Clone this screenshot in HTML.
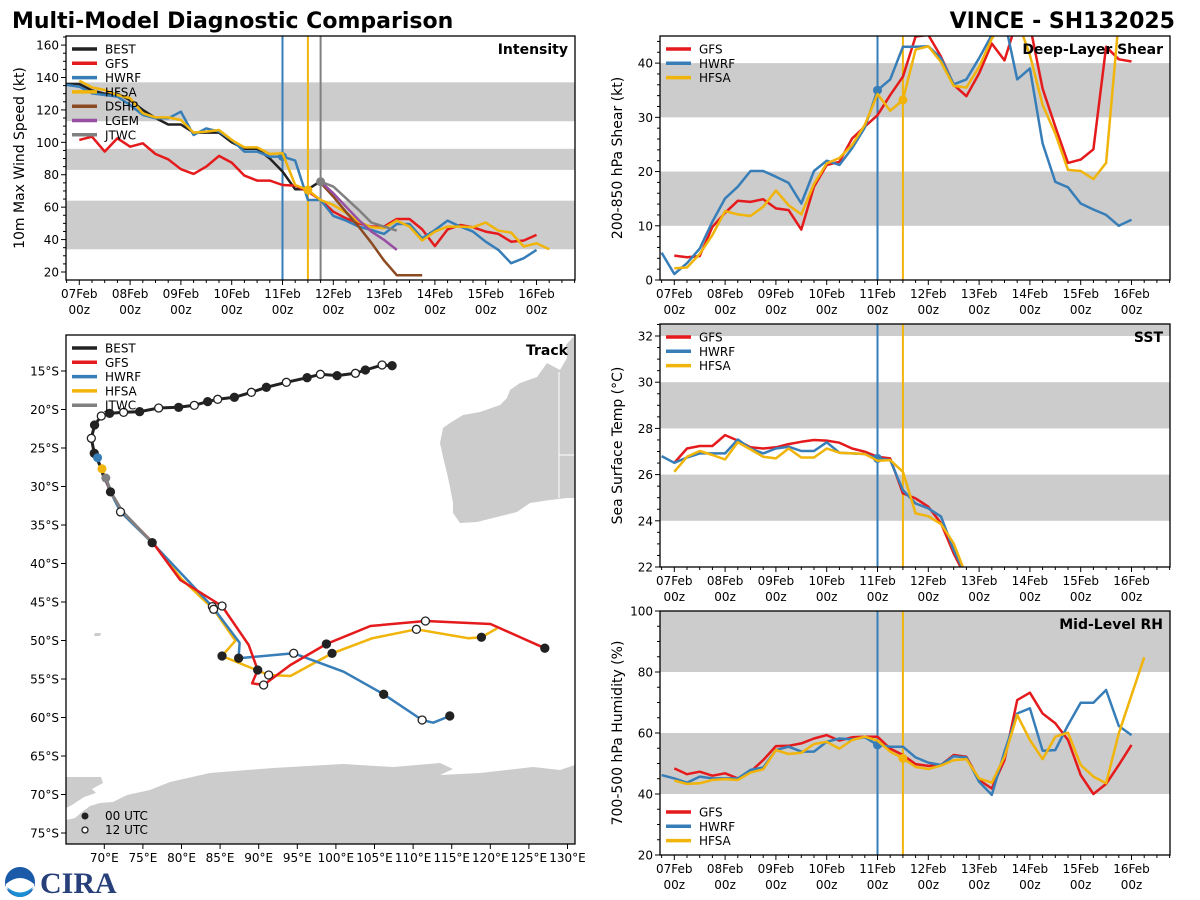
<!DOCTYPE html>
<html><head><meta charset="utf-8"><style>
html,body{margin:0;padding:0;background:#fff;}
svg{display:block;font-family:"DejaVu Sans","Liberation Sans",sans-serif;}
</style></head><body>
<svg id="fig" width="1200" height="900" viewBox="0 0 1200 900">
<text x="12" y="28" font-size="22" font-weight="bold">Multi-Model Diagnostic Comparison</text>
<text x="1175" y="28" font-size="22" font-weight="bold" text-anchor="end">VINCE - SH132025</text>
<g>
<circle cx="20" cy="882" r="15" fill="#1a5aa8"/>
<path d="M6,884 Q20,872 34,884 L34,888 Q20,900 6,888 Z" fill="#fff"/>
<path d="M7,887 Q20,898 33,887 Q28,897 20,897 Q12,897 7,887Z" fill="#1a8fd4"/>
</g>
<text x="40" y="893" font-size="30" font-weight="bold" fill="#27407a" font-family="Liberation Serif, serif">CIRA</text>
</svg>
<script>
// ---------- data ----------
const hourTickLabels = ["07Feb","08Feb","09Feb","10Feb","11Feb","12Feb","13Feb","14Feb","15Feb","16Feb"];
const intBest = [136,136,132,130,130,126,120,115,111,111,106,106,106,100,96,96,90,82,71,71,76];
const intBestStart = -6;
const intGfs = [101.5,103.5,94.3,102.5,97.3,99.4,92.8,89.5,83.4,80.5,85,91.6,87.5,79.5,76.4,76.4,73.7,73.3,69.6,64.4,57.2,53.1,50,48,48,52.7,52.7,46.3,36,46.3,49,47.6,44.9,43.5,38.7,39.4,42.9];
const intGfsStart = 0;
const intHwrf = [135.4,134.3,130.2,129.2,128.2,123,116.9,114.8,114.8,118.9,104.5,108.6,106.6,101.5,94.3,94.3,91.2,91.2,88.7,64.4,64.4,54.6,51.7,48,45.9,43.5,49.6,49.6,40.8,45.9,51.7,48,44.9,38.7,33.6,25.4,28.5,33.6];
const intHwrfStart = -6;
const intHfsa = [138,133.9,132.3,129.2,127.2,117.9,115.4,115.4,113.8,106,106.6,107.6,101.5,96.9,96.9,92.8,93.2,73.7,70.6,64.4,61.4,56.6,51.1,47.6,47,51.7,48,39.4,44.9,48,48,47.6,50.5,45.5,44.3,35.7,37.7,34];
const intHfsaStart = 0;
const intDshp = [75,66.5,57,48,38,27,18,18,18];
const intLgem = [75.7,68.6,60.3,52.1,44.9,39.8,33.6];
const intJtwc = [75.7,72.7,65.5,58.3,50.5,48,45.5];
const intLateStart = 114;

const shrGfs = [4.5,4.2,4.4,9.8,12.4,14.6,14.4,14.9,13.2,12.9,9.3,17.2,21.2,21.8,26.1,28.3,30.4,34.1,37.5,44.9,45.2,41.2,36,33.9,38.1,43.6,40.5,48,47,35.3,28.3,21.6,22.2,24.1,43,40.7,40.3];
const shrHwrf = [5.04,1.1,3.1,5.8,10.75,15.05,17.2,20.1,20.1,19.05,17.9,14.1,20.1,22,21.2,24.3,28.1,35,37,43,43,43.1,40.9,36.1,37,40.9,45.2,48,37,39,25.2,18.1,17.1,14.1,13,12,10,11.1];
const shrHfsa = [2.15,2.3,4.8,8.3,12.7,12.1,11.8,13.5,16.5,13.8,12.1,17.7,21.5,22.5,24.9,28.6,34.3,31.2,33.2,42.5,43.1,40.2,35.8,35.5,39.3,44.5,48,48,41.5,32.3,27,20.3,20.1,18.6,21.6,48];

const sstGfs = [26.51,27.13,27.24,27.24,27.71,27.47,27.18,27.13,27.18,27.32,27.42,27.5,27.47,27.38,27.13,26.99,26.77,26.7,25.19,24.97,24.61,23.89,22.59,21.5];
const sstHwrf = [26.8,26.51,26.74,26.92,26.92,26.92,27.52,27.13,26.92,27.13,27.21,27.02,27.02,27.4,26.95,26.92,26.89,26.7,26.63,25.33,24.75,24.54,24.18,22.73,21.6];
const sstHfsa = [26.12,26.77,27.02,26.85,26.66,27.4,27.09,26.77,26.7,27.13,26.74,26.74,27.13,26.95,26.92,26.89,26.6,26.63,26.12,24.32,24.2,23.86,23.02,21.6];

const rhGfs = [48.4,46.5,47.3,46,46.8,45.1,47.3,51.1,55.7,55.8,56.6,58.2,59.3,57.5,58.6,58.8,58.8,54.9,52.8,49.8,49.2,49.5,52.8,52.2,44.6,41.8,51.1,70.8,73.2,66.4,63.2,57.7,46.2,40,43.3,49.5,56.1];
const rhHwrf = [46.2,45.1,43.7,45.7,45.1,45.1,45.1,47.9,48.7,54.4,55.5,53.9,53.9,57.1,58.2,57.9,58.6,56.1,55.5,55.5,52,50.3,49.5,52.4,52,44,39.7,53.9,66.4,68.1,54.2,54.4,62.6,69.9,69.9,74.1,62.3,59.3];
const rhHfsa = [44.4,43.3,43.5,44.6,44.9,44.6,47,48.1,54.4,53.1,53.5,56.4,57.1,54.9,57.7,58.8,57.5,53.9,51.7,48.9,48.2,49.3,51.1,51.4,45.1,43.7,52.2,65.9,57.7,51.4,58.8,60.1,49.5,45.7,43.5,59.9,72.4,84.8];

const bestLon = [107.28,105.98,103.82,102.53,100.15,97.99,96.27,93.58,90.99,89.05,86.85,84.69,83.39,81.66,79.63,77.04,74.58,72.5,70.69,69.61,68.74,68.32,68.7,69.4,69.7,70.0];
const bestLat = [14.31,14.22,14.87,15.3,15.6,15.43,15.87,16.47,17.12,17.77,18.42,18.68,18.98,19.46,19.72,19.81,20.28,20.37,20.5,20.84,22.01,23.74,25.69,27.2,28.1,28.9];
const gfsLon = [70.0,70.9,72.3,76.3,79.85,85.25,88.7,89.87,89.14,90.64,94.1,98.77,104.47,111.6,120.02,127.06];
const gfsLat = [28.7,30.8,33.2,37.3,42.14,45.52,50.58,53.83,55.56,55.78,53.18,50.45,48.12,47.47,47.86,51.0];
const gfsMk = ['','','','','','o','','f','','o','','f','','o','','f'];
const hwrfLon = [69.13,70.0,70.8,72.1,76.2,84.0,87.53,87.4,94.53,101.0,106.19,111.17,112.6,114.75];
const hwrfLat = [26.26,28.9,30.7,33.3,37.3,45.6,50.29,52.3,51.66,54.05,56.99,60.32,60.68,59.8];
const hwrfMk = ['','','f','o','f','o','','f','o','','f','o','','f'];
const hfsaLon = [69.7,70.8,72.1,76.2,80.0,84.16,86.98,85.25,91.29,94.1,99.5,104.69,110.43,117.2,118.85,120.88];
const hfsaLat = [27.7,30.7,33.2,37.2,42.0,45.95,50.03,52.01,54.48,54.61,51.67,49.71,48.55,49.71,49.58,48.42];
const hfsaMk = ['','','','','','o','','f','o','','f','','o','','f',''];
const jtwcLon = [70.2,71.0,72.3,76.3];
const jtwcLat = [28.9,31.0,33.2,37.4];

// ---------- helpers ----------
const NS = 'http://www.w3.org/2000/svg';
const svg = document.getElementById('fig');
const C = {best:'#222222', gfs:'#e41a1c', hwrf:'#377eb8', hfsa:'#f0b40a', dshp:'#8c4a22', lgem:'#984ea3', jtwc:'#808080', band:'#cccccc'};
function mk(tag, attrs, parent){
  const e = document.createElementNS(NS, tag);
  for (const k in attrs) e.setAttribute(k, attrs[k]);
  (parent||svg).appendChild(e);
  return e;
}
function txt(x,y,s,size,anchor,parent,weight){
  const t = mk('text',{x:x,y:y,'font-size':size,'text-anchor':anchor||'start','font-weight':weight||'normal'},parent);
  t.textContent = s;
  return t;
}
let clipN = 0;

function tsPanel(o){
  const g = mk('g',{});
  
  
  const X = h => o.x0 + (h/24)*50.8;
  const Y = v => o.B - (v - o.ymin)/(o.ymax - o.ymin)*(o.B - o.T);
  const id = 'clip' + (clipN++);
  const cp = mk('clipPath',{id:id},g);
  mk('rect',{x:o.L,y:o.T,width:o.R-o.L,height:o.B-o.T},cp);
  const plot = mk('g',{'clip-path':'url(#'+id+')'},g);
  o.bands.forEach(b => {
    const r = mk('rect',{x:o.L,y:Y(b[1]),width:o.R-o.L,height:Y(b[0])-Y(b[1]),fill:C.band},plot);
    
    
  });
  o.vlines.forEach(v => {
    const l = mk('line',{x1:X(v[0]),x2:X(v[0]),y1:o.T,y2:o.B,stroke:v[1],'stroke-width':2},plot);
    
    
  });
  o.series.forEach(s => {
    const pts = s.vals.map((v,i) => X(s.start + i*6).toFixed(1)+','+Y(v).toFixed(1)).join(' ');
    const pl = mk('polyline',{points:pts,fill:'none',stroke:s.color,'stroke-width':2.5,'stroke-linejoin':'round'},plot);
    
    
    if (s.dotAt !== undefined) {
      const idx = (s.dotAt - s.start)/6;
      const d = mk('circle',{cx:X(s.dotAt),cy:Y(s.vals[idx]),r:4.5,fill:s.color},plot);
      
      
    }
  });
  mk('rect',{x:o.L,y:o.T,width:o.R-o.L,height:o.B-o.T,fill:'none',stroke:'#000','stroke-width':1.3},g);
  // y ticks
  for (let v = Math.ceil(o.ymin/o.minor)*o.minor; v <= o.ymax + 1e-6; v += o.minor) {
    const major = Math.abs(v/o.major - Math.round(v/o.major)) < 1e-6;
    const y = Y(v);
    mk('line',{x1:o.L-(major?5:3),x2:o.L,y1:y,y2:y,stroke:'#000','stroke-width':1},g);
    if (major) {
      const t = txt(o.L-7, y+4.5, String(Math.round(v)), 12, 'end', g);
      
      
    }
  }
  // x ticks
  for (let h = -6; h <= 240; h += 6) {
    const x = X(h);
    if (x < o.L - 0.5 || x > o.R + 0.5) continue;
    const major = h % 24 === 0;
    mk('line',{x1:x,x2:x,y1:o.B,y2:o.B+(major?5:3),stroke:'#000','stroke-width':1},g);
    if (major && h/24 < hourTickLabels.length) {
      const t1 = txt(x, o.B+18, hourTickLabels[h/24], 12, 'middle', g);
      
      
      const t2 = txt(x, o.B+34, '00z', 12, 'middle', g);
      
      
    }
  }
  const yl = mk('text',{x:0,y:0,'font-size':14,'text-anchor':'middle',transform:'translate('+o.ylx+','+((o.T+o.B)/2)+') rotate(-90)'},g);
  yl.textContent = o.ylabel;
  
  
  const tt = txt(o.R-7, o.titleY, o.title, 14, 'end', g, 'bold');
  
  
  // legend
  o.legend.forEach((e,i) => {
    const y = o.legY + i*14.3;
    const l = mk('line',{x1:o.L+6,x2:o.L+31,y1:y,y2:y,stroke:e[1],'stroke-width':3.5},g);
    
    
    const t = txt(o.L+39, y+4.5, e[0], 12, 'start', g);
    
    
  });
}

tsPanel({name:'intensity',L:66,R:575,T:36,B:280,x0:79.3,ymin:15.06,ymax:165.6,major:20,minor:5,
  bands:[[34,64],[83,96],[113,137]],
  vlines:[[96,C.hwrf],[108,C.hfsa],[114,C.jtwc]],
  series:[
    {name:'best',vals:intBest,start:intBestStart,color:C.best},
    {name:'gfs',vals:intGfs,start:intGfsStart,color:C.gfs},
    {name:'hwrf',vals:intHwrf,start:intHwrfStart,color:C.hwrf,dotAt:96},
    {name:'hfsa',vals:intHfsa,start:intHfsaStart,color:C.hfsa,dotAt:108},
    {name:'dshp',vals:intDshp,start:intLateStart,color:C.dshp},
    {name:'lgem',vals:intLgem,start:intLateStart,color:C.lgem},
    {name:'jtwc',vals:intJtwc,start:intLateStart,color:C.jtwc,dotAt:114}],
  ylabel:'10m Max Wind Speed (kt)',ylx:24,title:'Intensity',titleY:54,legY:49,
  legend:[['BEST',C.best],['GFS',C.gfs],['HWRF',C.hwrf],['HFSA',C.hfsa],['DSHP',C.dshp],['LGEM',C.lgem],['JTWC',C.jtwc]]});

tsPanel({name:'shear',L:660,R:1170,T:36,B:280,x0:674.3,ymin:0,ymax:45,major:10,minor:2,
  bands:[[10,20],[30,40]],
  vlines:[[96,C.hwrf],[108,C.hfsa]],
  series:[
    {name:'gfs',vals:shrGfs,start:0,color:C.gfs},
    {name:'hwrf',vals:shrHwrf,start:-6,color:C.hwrf,dotAt:96},
    {name:'hfsa',vals:shrHfsa,start:0,color:C.hfsa,dotAt:108}],
  ylabel:'200-850 hPa Shear (kt)',ylx:622,title:'Deep-Layer Shear',titleY:54,legY:49,
  legend:[['GFS',C.gfs],['HWRF',C.hwrf],['HFSA',C.hfsa]]});

tsPanel({name:'sst',L:660,R:1170,T:324,B:567,x0:674.3,ymin:22,ymax:32.52,major:2,minor:0.5,
  bands:[[24,26],[28,30],[32,33]],
  vlines:[[96,C.hwrf],[108,C.hfsa]],
  series:[
    {name:'gfs',vals:sstGfs,start:0,color:C.gfs},
    {name:'hwrf',vals:sstHwrf,start:-6,color:C.hwrf,dotAt:96},
    {name:'hfsa',vals:sstHfsa,start:0,color:C.hfsa}],
  ylabel:'Sea Surface Temp (°C)',ylx:622,title:'SST',titleY:342,legY:337,
  legend:[['GFS',C.gfs],['HWRF',C.hwrf],['HFSA',C.hfsa]]});

tsPanel({name:'rh',L:660,R:1170,T:611,B:855,x0:674.3,ymin:20,ymax:100,major:20,minor:5,
  bands:[[40,60],[80,100]],
  vlines:[[96,C.hwrf],[108,C.hfsa]],
  series:[
    {name:'gfs',vals:rhGfs,start:0,color:C.gfs},
    {name:'hwrf',vals:rhHwrf,start:-6,color:C.hwrf,dotAt:96},
    {name:'hfsa',vals:rhHfsa,start:0,color:C.hfsa,dotAt:108}],
  ylabel:'700-500 hPa Humidity (%)',ylx:622,title:'Mid-Level RH',titleY:629,legY:812,
  legend:[['GFS',C.gfs],['HWRF',C.hwrf],['HFSA',C.hfsa]]});

// ---------- track map ----------
(function(){
  const L=66,R=575,T=335,B=844;
  const PX = lon => 104.3 + (lon-70)*7.72;
  const PY = lat => 371 + (lat-15)*7.7;
  const g = mk('g',{});
  
  
  const cp = mk('clipPath',{id:'trkclip'},g);
  mk('rect',{x:L,y:T,width:R-L,height:B-T},cp);
  const p = mk('g',{'clip-path':'url(#trkclip)'},g);
  const aus = mk('polygon',{fill:C.band,points:'575,335 566,345 567,358 560,370 547,363 537,377 520,383 510,390 507,398 500,405 480,412 463,415 450,423 443,428 440,443 443,457 447,473 450,487 453,503 453,513 460,523 477,522 497,517 517,512 530,503 550,500 567,498 575,498'},p);
  
  
  mk('polyline',{points:'559,372 559,498',stroke:'#fff','stroke-width':1,fill:'none'},p);
  mk('polyline',{points:'559,455 575,455',stroke:'#fff','stroke-width':1,fill:'none'},p);
  const ant = mk('polygon',{fill:C.band,points:'66,844 66,820 75,818 82,812 90,806 100,803 113,802 127,795 150,790 170,782 210,773 273,768 343,764 393,767 417,765 440,763 453,769 440,775 480,773 533,767 560,770 575,765 575,844'},p);
  
  
  mk('polygon',{fill:C.band,points:'66,777 101,777 103,783 92,789 96,793 84,797 72,805 66,808'},p);
  mk('polygon',{fill:C.band,points:'95,633 101,633 100,636 94,636'},p);

  function track(name, lons, lats, color, w, mks){
    const pts = lons.map((v,i) => PX(v).toFixed(1)+','+PY(lats[i]).toFixed(1)).join(' ');
    const pl = mk('polyline',{points:pts,fill:'none',stroke:color,'stroke-width':w,'stroke-linejoin':'round'},p);
    
    
    return pl;
  }
  function markers(name, lons, lats, types){
    lons.forEach((v,i) => {
      if (!types[i]) return;
      const c = mk('circle',{cx:PX(v),cy:PY(lats[i]),r:4,fill:types[i]==='f'?'#222':'#fff',stroke:'#222','stroke-width':1.3},p);
      
      
    });
  }
  track('hfsa', hfsaLon, hfsaLat, C.hfsa, 2.5);
  track('hwrf', hwrfLon, hwrfLat, C.hwrf, 2.5);
  track('gfs', gfsLon, gfsLat, C.gfs, 2.5);
  track('jtwc', jtwcLon, jtwcLat, C.jtwc, 3);
  track('best', bestLon, bestLat, C.best, 3);
  const bestTypes = bestLon.map((v,i) => i < 23 ? (i % 2 === 0 ? 'f' : 'o') : '');
  markers('best', bestLon, bestLat, bestTypes);
  markers('gfs', gfsLon, gfsLat, gfsMk);
  markers('hwrf', hwrfLon, hwrfLat, hwrfMk);
  markers('hfsa', hfsaLon, hfsaLat, hfsaMk);
  [[hwrfLon,hwrfLat,C.hwrf,'hwrf'],[hfsaLon,hfsaLat,C.hfsa,'hfsa'],[jtwcLon,jtwcLat,C.jtwc,'jtwc']].forEach(a => {
    const c = mk('circle',{cx:PX(a[0][0]),cy:PY(a[1][0]),r:4.5,fill:a[2]},p);
    
    
  });
  mk('rect',{x:L,y:T,width:R-L,height:B-T,fill:'none',stroke:'#000','stroke-width':1.3},g);
  for (let lat = 15; lat <= 75; lat += 5) {
    const y = PY(lat);
    mk('line',{x1:L-5,x2:L,y1:y,y2:y,stroke:'#000'},g);
    const t = txt(L-7, y+4.5, lat+'°S', 12, 'end', g);
    
    
  }
  for (let lon = 70; lon <= 130; lon += 5) {
    const x = PX(lon);
    mk('line',{x1:x,x2:x,y1:B,y2:B+5,stroke:'#000'},g);
    const t = txt(x, B+18, lon+'°E', 12, 'middle', g);
    
    
  }
  const tt = txt(R-7, 355, 'Track', 14, 'end', g, 'bold');
  
  
  [['BEST',C.best],['GFS',C.gfs],['HWRF',C.hwrf],['HFSA',C.hfsa],['JTWC',C.jtwc]].forEach((e,i) => {
    const y = 348 + i*14.3;
    const l = mk('line',{x1:L+6,x2:L+31,y1:y,y2:y,stroke:e[1],'stroke-width':3.5},g);
    
    
    const t = txt(L+39, y+4.5, e[0], 12, 'start', g);
    
    
  });
  const m1 = mk('circle',{cx:85,cy:816,r:3.5,fill:'#222'},g);
  
  
  const t1 = txt(105, 820, '00 UTC', 12, 'start', g);
  
  
  const m2 = mk('circle',{cx:85,cy:830,r:3,fill:'#fff',stroke:'#222','stroke-width':1.3},g);
  
  
  const t2 = txt(105, 834, '12 UTC', 12, 'start', g);
  
  
})();
</script>
</body></html>
